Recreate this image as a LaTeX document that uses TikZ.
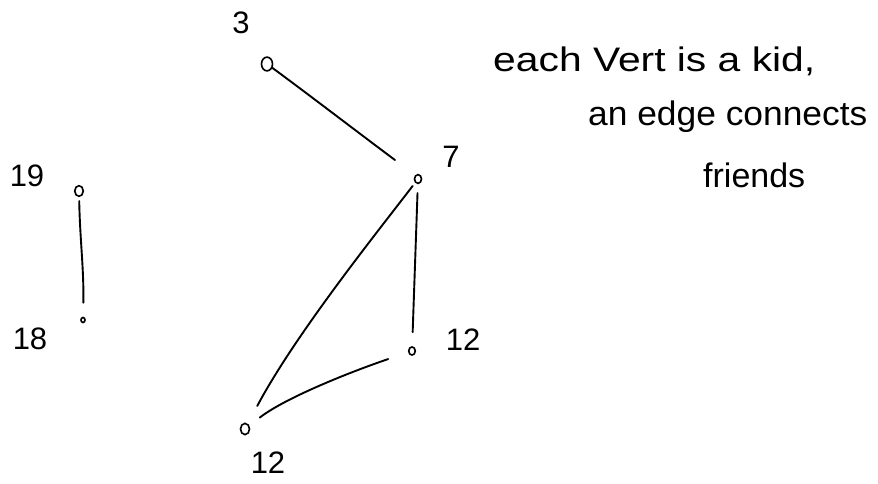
\documentclass[tikz,border=0pt]{standalone}
\usepackage{fontspec}
\setmainfont{Liberation Sans}
\usetikzlibrary{shapes.geometric}
\begin{document}
\begin{tikzpicture}[x=1pt,y=-1pt,
  vert/.style={draw,ellipse,line width=1.6pt,inner sep=0pt,minimum width=#1,minimum height=#1*1.25},
  vert/.default=7pt,
  lbl/.style={font=\fontsize{31}{31}\selectfont,inner sep=0pt},
  edge/.style={line width=1.9pt,line cap=round},
  note/.style={font=\fontsize{34}{38}\selectfont,anchor=base west,inner sep=0pt}]
\path[fill=white] (0,0) rectangle (878,484);
% vertices
\node[vert=11pt] (v3) at (267,64) {};
\node[vert=7pt] (v7) at (418,179) {};
\node[vert=8.5pt] (v19) at (79,191) {};
\node[vert=4pt] (v18) at (83,320) {};
\node[vert=6.5pt] (v12a) at (412,351) {};
\node[vert=9pt] (v12b) at (245,429) {};
% labels
\node[lbl] (l3) at (241,23) {3};
\node[lbl] (l7) at (451,157) {7};
\node[lbl] (l19) at (27,176) {19};
\node[lbl] (l18) at (30,339) {18};
\node[lbl] (l12a) at (463,340) {12};
\node[lbl] (l12b) at (268,463) {12};
% edges
\coordinate (e37) at (395,160);
\draw[edge] (v3) .. controls (300,88) and (368,140) .. (e37);
\draw[edge,shorten <=4pt,shorten >=14pt] (v19) .. controls (80,240) and (84,270) .. (v18);
\draw[edge,shorten <=9pt,shorten >=14pt] (v7) -- (v12a);
\draw[edge,shorten <=4pt,shorten >=20pt] (v7) .. controls (375,235) and (295,335) .. (v12b);
\draw[edge,shorten <=21pt,shorten >=13pt] (v12a) .. controls (350,372) and (285,398) .. (v12b);
% note
\node[note,xscale=1.2] (t1) at (493,72) {each Vert is a kid,};
\node[note,xscale=1.04] (t2) at (588,126) {an edge connects};
\node[note] (t3) at (703,187) {friends};
\end{tikzpicture}
\end{document}
